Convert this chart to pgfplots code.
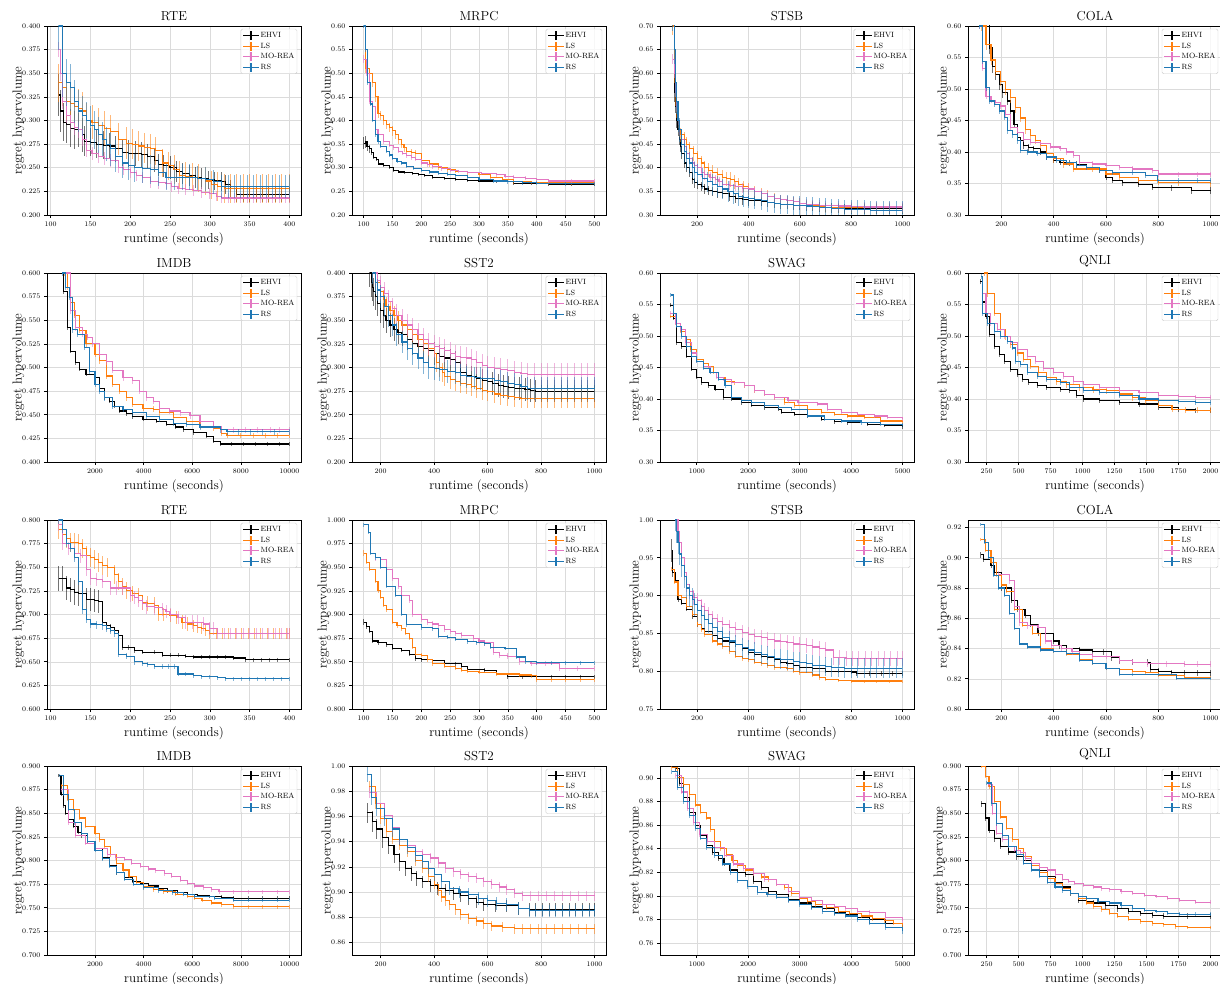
\documentclass[border=0pt]{standalone}
\usepackage{pgfplots}
\pgfplotsset{compat=1.18}
\definecolor{cL}{HTML}{FF7F0E}
\definecolor{cM}{HTML}{E377C2}
\definecolor{cR}{HTML}{1F77B4}
\tikzset{
 sE/.style={black, const plot, line width=1.1pt, mark=none},
 sL/.style={cL, const plot, line width=1.1pt, mark=none},
 sM/.style={cM, const plot, line width=1.1pt, mark=none},
 sR/.style={cR, const plot, line width=1.1pt, mark=none},
}
\pgfplotsset{
 /pgfplots/error bars/draw error bar/.code 2 args={\draw #1 -- #2;},
 panel/.style={
  scale only axis, width=254pt, height=189pt, anchor=south west,
  grid=major, grid style={line width=0.5pt, black!14},
  tick align=outside, tick pos=left, major tick length=3pt,
  every tick/.style={black, line width=0.6pt},
  axis line style={line width=0.8pt},
  tick label style={font=\fontsize{7}{8}\selectfont},
  title style={font=\fontsize{13}{15}\selectfont, yshift=-4pt},
  label style={font=\fontsize{13}{15}\selectfont},
  ylabel shift=-9pt,
  xlabel={runtime (seconds)}, ylabel={regret hypervolume},
  scaled x ticks=false, scaled y ticks=false,
  /pgf/number format/1000 sep={},
  /pgfplots/error bars/y dir=both,
  /pgfplots/error bars/y explicit,
  /pgfplots/error bars/error mark=none,
  /pgfplots/error bars/error bar style={line width=0.9pt, opacity=0.55},
  legend style={font=\fontsize{7.6}{8.5}\selectfont, at={(0.985,0.985)}, anchor=north east,
    draw=black!20, rounded corners=1.5pt, fill=white, fill opacity=0.8, text opacity=1,
    inner sep=1.5pt, row sep=0.3pt, nodes={inner sep=1pt}},
  legend cell align=left,
  legend image code/.code={\draw[##1, line width=1.2pt] (0pt,0pt) -- (16pt,0pt); \draw[##1, line width=1.2pt] (8pt,-4.5pt) -- (8pt,4.5pt);},
 },
 p3/.style={yticklabel style={/pgf/number format/fixed, /pgf/number format/fixed zerofill, /pgf/number format/precision=3}},
 p2/.style={yticklabel style={/pgf/number format/fixed, /pgf/number format/fixed zerofill, /pgf/number format/precision=2}},
}
\begin{document}
\begin{tikzpicture}
% ---------- Row 1 ----------
\begin{axis}[panel, p3, at={(47pt,768pt)}, title={RTE}, xmin=95.5, xmax=414.5, ymin=0.2, ymax=0.4,
  xtick={100,150,...,400}, ytick={0.2,0.225,0.25,0.275,0.3,0.325,0.35,0.375,0.4}]
\addplot[sE] table[y error index=2,row sep=\\]{110 .327 .022\\ 113 .31 .022\\ 116 .298 .02\\ 120 .296 .02\\ 125 .292 .02\\ 130 .29 .02\\ 135 .29 .018\\ 140 .285 .018\\ 143 .278 .016\\ 150 .277 .015\\ 158 .275 .015\\ 166 .274 .015\\ 174 .273 .014\\ 182 .27 .014\\ 190 .266 .014\\ 198 .265 .014\\ 206 .265 .013\\ 214 .264 .013\\ 222 .262 .013\\ 230 .258 .012\\ 235 .253 .012\\ 242 .252 .012\\ 250 .25 .012\\ 258 .246 .011\\ 266 .244 .011\\ 274 .242 .011\\ 282 .24 .011\\ 290 .239 .011\\ 298 .237 .01\\ 306 .236 .01\\ 314 .235 .01\\ 320 .232 .01\\ 326 .228 .009\\ 334 .222 .008\\ 342 .222 .008\\ 350 .222 .008\\ 358 .222 .008\\ 366 .222 .008\\ 374 .222 .008\\ 382 .222 .008\\ 390 .222 .008\\ 400 .222 .008\\};
\addplot[sL] table[y error index=2,row sep=\\]{110 .34 .02\\ 115 .335 .02\\ 120 .32 .02\\ 125 .318 .02\\ 130 .315 .02\\ 135 .313 .02\\ 140 .31 .02\\ 145 .30 .018\\ 152 .298 .018\\ 160 .295 .018\\ 168 .292 .018\\ 175 .288 .018\\ 185 .28 .017\\ 195 .276 .017\\ 203 .275 .016\\ 210 .273 .016\\ 218 .271 .016\\ 225 .27 .016\\ 232 .268 .015\\ 240 .255 .015\\ 248 .252 .015\\ 255 .248 .015\\ 262 .242 .015\\ 270 .241 .015\\ 278 .24 .015\\ 286 .239 .015\\ 294 .236 .015\\ 302 .232 .015\\ 310 .23 .015\\ 318 .228 .015\\ 326 .228 .015\\ 334 .228 .015\\ 342 .228 .015\\ 350 .228 .015\\ 358 .228 .015\\ 366 .228 .015\\ 374 .228 .015\\ 382 .228 .015\\ 390 .228 .015\\ 400 .228 .015\\};
\addplot[sM] table[y error index=2,row sep=\\]{110 .375 .008\\ 112 .35 .008\\ 115 .32 .008\\ 120 .305 .008\\ 125 .298 .008\\ 130 .293 .008\\ 135 .29 .008\\ 140 .28 .007\\ 145 .268 .007\\ 152 .265 .007\\ 160 .262 .007\\ 168 .26 .007\\ 175 .258 .007\\ 185 .25 .006\\ 192 .248 .006\\ 200 .245 .006\\ 208 .242 .006\\ 215 .24 .006\\ 225 .235 .006\\ 235 .234 .006\\ 245 .233 .006\\ 252 .23 .006\\ 260 .228 .006\\ 270 .227 .006\\ 280 .226 .006\\ 290 .224 .006\\ 300 .223 .006\\ 308 .22 .005\\ 315 .218 .005\\ 323 .218 .005\\ 331 .218 .005\\ 339 .218 .005\\ 347 .218 .005\\ 355 .218 .005\\ 363 .218 .005\\ 371 .218 .005\\ 379 .218 .005\\ 387 .218 .005\\ 395 .218 .005\\ 400 .218 .005\\};
\addplot[sR] table[y error index=2,row sep=\\]{110 .40 .025\\ 115 .35 .025\\ 120 .34 .025\\ 125 .335 .025\\ 130 .32 .023\\ 135 .31 .022\\ 140 .305 .021\\ 145 .30 .02\\ 150 .295 .02\\ 155 .29 .02\\ 160 .285 .019\\ 165 .28 .018\\ 170 .275 .018\\ 175 .27 .018\\ 182 .262 .017\\ 190 .255 .016\\ 198 .252 .015\\ 205 .25 .015\\ 215 .249 .015\\ 225 .248 .015\\ 235 .245 .014\\ 245 .24 .014\\ 255 .24 .014\\ 265 .24 .014\\ 275 .24 .014\\ 285 .239 .013\\ 295 .238 .013\\ 305 .235 .013\\ 315 .23 .012\\ 323 .23 .012\\ 331 .23 .012\\ 339 .23 .012\\ 347 .23 .012\\ 355 .23 .012\\ 363 .23 .012\\ 371 .23 .012\\ 379 .23 .012\\ 387 .23 .012\\ 395 .23 .012\\ 400 .23 .012\\};
\legend{EHVI,LS,MO-REA,RS}
\end{axis}
\begin{axis}[panel, p2, at={(352pt,768pt)}, title={MRPC}, xmin=80, xmax=520, ymin=0.2, ymax=0.6,
  xtick={100,150,...,500}, ytick={0.2,0.25,0.3,0.35,0.4,0.45,0.5,0.55,0.6}]
\addplot[sE] table[y error index=2,row sep=\\]{100 .352 .013\\ 103 .355 .013\\ 106 .345 .01\\ 110 .34 .008\\ 113 .333 .006\\ 117 .322 .004\\ 122 .318 .004\\ 126 .308 .003\\ 135 .304 .003\\ 145 .30 .003\\ 152 .295 .003\\ 160 .291 .003\\ 170 .289 .003\\ 185 .288 .003\\ 195 .285 .003\\ 205 .283 .003\\ 220 .279 .003\\ 240 .277 .003\\ 260 .275 .003\\ 280 .273 .003\\ 300 .272 .003\\ 330 .27 .003\\ 360 .267 .003\\ 390 .266 .003\\ 420 .265 .003\\ 460 .265 .003\\ 500 .265 .003\\};
\addplot[sL] table[y error index=2,row sep=\\]{100 .62 .01\\ 103 .51 .01\\ 110 .50 .01\\ 115 .48 .01\\ 120 .45 .01\\ 125 .415 .01\\ 130 .41 .01\\ 135 .40 .01\\ 140 .392 .01\\ 145 .385 .01\\ 150 .378 .01\\ 155 .37 .01\\ 160 .36 .009\\ 165 .35 .008\\ 170 .342 .008\\ 175 .335 .008\\ 183 .332 .007\\ 190 .33 .007\\ 200 .315 .006\\ 215 .308 .006\\ 230 .30 .005\\ 245 .296 .005\\ 260 .293 .005\\ 280 .289 .005\\ 300 .285 .005\\ 320 .28 .005\\ 340 .275 .005\\ 360 .27 .005\\ 390 .269 .004\\ 420 .268 .004\\ 460 .268 .004\\ 500 .268 .004\\};
\addplot[sM] table[y error index=2,row sep=\\]{100 .53 .008\\ 105 .50 .006\\ 110 .44 .005\\ 115 .43 .005\\ 120 .38 .005\\ 125 .37 .005\\ 135 .355 .004\\ 145 .348 .004\\ 152 .342 .004\\ 160 .335 .004\\ 168 .33 .004\\ 175 .325 .004\\ 183 .321 .004\\ 190 .318 .004\\ 200 .31 .004\\ 210 .306 .004\\ 220 .302 .004\\ 235 .298 .004\\ 250 .295 .004\\ 265 .292 .004\\ 280 .29 .004\\ 305 .288 .004\\ 330 .285 .004\\ 345 .282 .004\\ 360 .28 .004\\ 380 .278 .004\\ 400 .275 .004\\ 420 .272 .004\\ 460 .272 .004\\ 500 .272 .004\\};
\addplot[sR] table[y error index=2,row sep=\\]{100 .60 .004\\ 103 .55 .004\\ 107 .48 .004\\ 112 .435 .004\\ 116 .40 .004\\ 120 .37 .004\\ 125 .355 .004\\ 130 .345 .004\\ 140 .335 .004\\ 145 .327 .004\\ 150 .32 .004\\ 158 .314 .004\\ 165 .31 .004\\ 175 .303 .004\\ 187 .299 .004\\ 200 .295 .004\\ 215 .291 .004\\ 230 .288 .004\\ 245 .286 .004\\ 260 .283 .004\\ 280 .279 .004\\ 300 .275 .004\\ 325 .272 .004\\ 350 .27 .004\\ 375 .268 .004\\ 400 .267 .004\\ 450 .266 .004\\ 500 .266 .004\\};
\legend{EHVI,LS,MO-REA,RS}
\end{axis}
\begin{axis}[panel, p2, at={(660pt,768pt)}, title={STSB}, xmin=55, xmax=1045, ymin=0.3, ymax=0.7,
  xtick={200,400,...,1000}, ytick={0.3,0.35,0.4,0.45,0.5,0.55,0.6,0.65,0.7}]
\addplot[sE] table[y error index=2,row sep=\\]{105 .72 .02\\ 110 .56 .02\\ 115 .53 .015\\ 120 .50 .015\\ 125 .48 .012\\ 130 .46 .012\\ 135 .445 .012\\ 140 .43 .012\\ 150 .41 .01\\ 160 .40 .01\\ 170 .39 .01\\ 180 .375 .01\\ 190 .368 .01\\ 200 .365 .01\\ 215 .36 .01\\ 230 .355 .01\\ 245 .352 .01\\ 260 .35 .01\\ 280 .347 .01\\ 300 .345 .01\\ 325 .34 .01\\ 350 .335 .01\\ 375 .332 .01\\ 400 .33 .01\\ 425 .33 .01\\ 450 .328 .01\\ 475 .326 .01\\ 500 .325 .01\\ 525 .323 .01\\ 550 .322 .01\\ 575 .321 .01\\ 600 .32 .01\\ 625 .319 .01\\ 650 .318 .01\\ 675 .317 .01\\ 700 .316 .01\\ 725 .315 .01\\ 750 .314 .01\\ 775 .313 .01\\ 800 .313 .01\\ 850 .313 .01\\ 900 .313 .01\\ 950 .313 .01\\ 1000 .313 .01\\};
\addplot[sL] table[y error index=2,row sep=\\]{105 .70 .02\\ 110 .60 .02\\ 115 .55 .02\\ 120 .52 .015\\ 125 .50 .015\\ 130 .48 .015\\ 135 .47 .015\\ 150 .46 .015\\ 160 .45 .015\\ 170 .44 .015\\ 185 .43 .015\\ 200 .42 .015\\ 215 .41 .015\\ 230 .40 .015\\ 245 .395 .015\\ 260 .39 .015\\ 280 .385 .015\\ 300 .38 .015\\ 315 .377 .015\\ 330 .375 .015\\ 345 .37 .014\\ 360 .365 .013\\ 380 .36 .012\\ 400 .355 .012\\ 425 .35 .012\\ 450 .345 .012\\ 475 .34 .012\\ 500 .335 .012\\ 525 .332 .011\\ 550 .33 .011\\ 575 .328 .011\\ 600 .325 .01\\ 625 .322 .01\\ 650 .32 .01\\ 675 .318 .01\\ 700 .315 .01\\ 750 .315 .01\\ 800 .315 .01\\ 850 .315 .01\\ 900 .315 .01\\ 950 .315 .01\\ 1000 .315 .01\\};
\addplot[sM] table[y error index=2,row sep=\\]{105 .63 .01\\ 110 .60 .01\\ 115 .56 .01\\ 120 .53 .01\\ 125 .50 .01\\ 130 .48 .01\\ 140 .46 .01\\ 150 .445 .01\\ 160 .43 .01\\ 170 .42 .01\\ 180 .41 .01\\ 190 .405 .01\\ 200 .40 .01\\ 215 .39 .01\\ 230 .385 .01\\ 250 .38 .01\\ 270 .375 .01\\ 285 .37 .01\\ 300 .365 .01\\ 325 .362 .01\\ 350 .36 .01\\ 375 .357 .01\\ 400 .355 .01\\ 425 .35 .01\\ 450 .345 .01\\ 475 .34 .01\\ 500 .335 .01\\ 525 .332 .01\\ 550 .33 .01\\ 575 .328 .01\\ 600 .325 .01\\ 625 .323 .01\\ 650 .322 .01\\ 675 .321 .01\\ 700 .32 .01\\ 750 .319 .01\\ 800 .318 .01\\ 850 .317 .01\\ 900 .317 .01\\ 950 .317 .01\\ 1000 .317 .01\\};
\addplot[sR] table[y error index=2,row sep=\\]{105 .72 .03\\ 110 .65 .03\\ 115 .58 .03\\ 120 .54 .027\\ 125 .50 .025\\ 130 .48 .025\\ 140 .45 .025\\ 150 .435 .025\\ 160 .42 .025\\ 170 .41 .023\\ 180 .40 .022\\ 190 .39 .022\\ 200 .385 .022\\ 220 .378 .022\\ 240 .37 .022\\ 260 .365 .022\\ 280 .36 .022\\ 300 .355 .022\\ 320 .35 .022\\ 340 .345 .021\\ 360 .34 .02\\ 380 .337 .02\\ 400 .335 .02\\ 425 .332 .02\\ 450 .33 .02\\ 475 .327 .02\\ 500 .325 .02\\ 525 .323 .02\\ 550 .322 .02\\ 575 .321 .02\\ 600 .32 .02\\ 625 .319 .02\\ 650 .318 .02\\ 675 .316 .02\\ 700 .315 .02\\ 725 .314 .02\\ 750 .313 .02\\ 775 .312 .02\\ 800 .312 .02\\ 825 .311 .02\\ 850 .311 .02\\ 875 .31 .02\\ 900 .31 .02\\ 925 .31 .02\\ 950 .31 .02\\ 975 .31 .02\\ 1000 .31 .02\\};
\legend{EHVI,LS,MO-REA,RS}
\end{axis}
\begin{axis}[panel, p2, at={(968pt,768pt)}, title={COLA}, xmin=72, xmax=1044, ymin=0.3, ymax=0.6,
  xtick={200,400,...,1000}, ytick={0.3,0.35,0.4,0.45,0.5,0.55,0.6}]
\addplot[sE] table[y error index=2,row sep=\\]{147 .62 .01\\ 153 .565 .01\\ 165 .536 .01\\ 178 .523 .008\\ 191 .507 .008\\ 204 .494 .008\\ 223 .481 .007\\ 235 .465 .006\\ 248 .444 .006\\ 260 .423 .006\\ 273 .418 .005\\ 286 .41 .005\\ 305 .407 .005\\ 323 .405 .005\\ 349 .40 .005\\ 374 .392 .005\\ 399 .387 .005\\ 424 .384 .005\\ 462 .383 .005\\ 487 .38 .005\\ 525 .376 .005\\ 575 .371 .005\\ 600 .36 .005\\ 626 .355 .005\\ 663 .351 .005\\ 726 .349 .005\\ 777 .344 .005\\ 852 .343 .005\\ 928 .339 .005\\ 1000 .339 .005\\};
\addplot[sL] table[y error index=2,row sep=\\]{122 .60 .008\\ 141 .57 .008\\ 160 .546 .008\\ 178 .528 .008\\ 198 .512 .008\\ 217 .499 .008\\ 235 .486 .008\\ 254 .47 .008\\ 273 .454 .007\\ 292 .436 .007\\ 311 .426 .006\\ 330 .418 .006\\ 349 .41 .006\\ 374 .397 .006\\ 399 .389 .006\\ 437 .381 .006\\ 475 .373 .005\\ 550 .373 .005\\ 600 .365 .005\\ 651 .36 .005\\ 726 .355 .005\\ 802 .352 .005\\ 878 .351 .005\\ 1000 .35 .005\\};
\addplot[sM] table[y error index=2,row sep=\\]{115 .60 .004\\ 128 .533 .004\\ 141 .488 .004\\ 160 .481 .004\\ 178 .478 .004\\ 198 .473 .004\\ 217 .459 .004\\ 235 .439 .004\\ 260 .431 .004\\ 286 .42 .004\\ 311 .415 .004\\ 349 .413 .004\\ 386 .408 .004\\ 424 .405 .004\\ 449 .40 .004\\ 475 .395 .004\\ 500 .384 .004\\ 550 .381 .004\\ 600 .379 .004\\ 651 .376 .004\\ 701 .373 .004\\ 777 .371 .004\\ 802 .365 .004\\ 878 .365 .004\\ 950 .365 .004\\ 1000 .365 .004\\};
\addplot[sR] table[y error index=2,row sep=\\]{115 .60 .005\\ 128 .544 .005\\ 141 .502 .005\\ 154 .481 .005\\ 173 .476 .005\\ 191 .465 .005\\ 210 .455 .005\\ 223 .434 .005\\ 242 .428 .005\\ 260 .418 .005\\ 273 .402 .004\\ 298 .40 .004\\ 336 .397 .004\\ 374 .392 .004\\ 412 .387 .004\\ 449 .384 .004\\ 487 .379 .004\\ 525 .376 .004\\ 575 .371 .004\\ 626 .368 .004\\ 701 .367 .004\\ 752 .363 .004\\ 796 .355 .004\\ 878 .355 .004\\ 950 .355 .004\\ 1000 .355 .004\\};
\legend{EHVI,LS,MO-REA,RS}
\end{axis}
% ---------- Row 2 ----------
\begin{axis}[panel, p3, at={(47pt,521pt)}, title={IMDB}, xmin=25, xmax=10475, ymin=0.4, ymax=0.6,
  xtick={2000,4000,...,10000}, ytick={0.4,0.425,0.45,0.475,0.5,0.525,0.55,0.575,0.6}]
\addplot[sE] table[y error index=2,row sep=\\]{550 .62 .002\\ 700 .58 .002\\ 870 .542 .002\\ 1000 .517 .002\\ 1200 .505 .002\\ 1350 .498 .002\\ 1630 .493 .002\\ 2000 .489 .002\\ 2180 .478 .002\\ 2390 .468 .002\\ 2600 .464 .002\\ 2800 .459 .002\\ 3000 .454 .002\\ 3300 .451 .002\\ 3560 .448 .002\\ 3975 .445 .002\\ 4530 .443 .002\\ 4940 .44 .002\\ 5300 .437 .002\\ 5630 .434 .002\\ 6050 .431 .002\\ 6600 .427 .002\\ 6880 .422 .002\\ 7150 .419 .002\\ 7600 .419 .002\\ 8100 .419 .002\\ 8600 .419 .002\\ 9100 .419 .002\\ 9600 .419 .002\\ 10000 .419 .002\\};
\addplot[sL] table[y error index=2,row sep=\\]{730 .60 .003\\ 870 .585 .003\\ 1000 .569 .003\\ 1140 .555 .003\\ 1350 .539 .003\\ 1630 .525 .003\\ 2000 .514 .003\\ 2180 .507 .003\\ 2460 .491 .003\\ 2730 .482 .003\\ 3000 .475 .003\\ 3280 .468 .003\\ 3560 .461 .003\\ 3975 .457 .003\\ 4390 .456 .003\\ 4670 .452 .003\\ 5220 .447 .003\\ 5770 .443 .003\\ 6320 .438 .003\\ 6880 .436 .003\\ 7220 .43 .003\\ 7430 .428 .003\\ 8000 .428 .003\\ 8500 .428 .003\\ 9000 .428 .003\\ 9500 .428 .003\\ 10000 .428 .003\\};
\addplot[sM] table[y error index=2,row sep=\\]{800 .60 .003\\ 1000 .56 .003\\ 1210 .542 .003\\ 1490 .535 .003\\ 1700 .532 .003\\ 1900 .525 .003\\ 2180 .514 .003\\ 2460 .506 .003\\ 2730 .497 .003\\ 3150 .489 .003\\ 3560 .486 .003\\ 3840 .475 .003\\ 4110 .468 .003\\ 4390 .464 .003\\ 4670 .457 .003\\ 5080 .454 .003\\ 5500 .452 .003\\ 5910 .449 .003\\ 6320 .443 .003\\ 6880 .438 .003\\ 7220 .434 .003\\ 7700 .434 .003\\ 8200 .434 .003\\ 8700 .434 .003\\ 9200 .434 .003\\ 9600 .434 .003\\ 10000 .434 .003\\};
\addplot[sR] table[y error index=2,row sep=\\]{660 .60 .003\\ 800 .585 .003\\ 940 .574 .003\\ 1070 .54 .003\\ 1280 .535 .003\\ 1560 .521 .003\\ 1770 .496 .003\\ 2000 .482 .003\\ 2180 .475 .003\\ 2390 .468 .003\\ 2730 .459 .003\\ 3150 .456 .003\\ 3560 .452 .003\\ 4110 .448 .003\\ 4670 .445 .003\\ 5220 .441 .003\\ 5770 .44 .003\\ 6320 .437 .003\\ 7150 .434 .003\\ 7430 .432 .003\\ 7900 .432 .003\\ 8400 .432 .003\\ 8900 .432 .003\\ 9400 .432 .003\\ 10000 .432 .003\\};
\legend{EHVI,LS,MO-REA,RS}
\end{axis}
\begin{axis}[panel, p3, at={(352pt,521pt)}, title={SST2}, xmin=93, xmax=1043, ymin=0.2, ymax=0.4,
  xtick={200,400,...,1000}, ytick={0.2,0.225,0.25,0.275,0.3,0.325,0.35,0.375,0.4}]
\addplot[sE] table[y error index=2,row sep=\\]{160 .40 .015\\ 165 .39 .015\\ 170 .385 .015\\ 175 .38 .015\\ 180 .375 .014\\ 190 .368 .014\\ 200 .36 .013\\ 210 .355 .013\\ 220 .35 .013\\ 235 .345 .013\\ 250 .34 .012\\ 265 .337 .012\\ 280 .335 .012\\ 300 .33 .012\\ 320 .325 .012\\ 340 .322 .012\\ 360 .32 .012\\ 380 .318 .012\\ 400 .315 .012\\ 420 .312 .012\\ 440 .31 .012\\ 460 .308 .012\\ 480 .305 .012\\ 500 .295 .012\\ 520 .292 .012\\ 540 .29 .012\\ 560 .288 .012\\ 580 .286 .012\\ 600 .285 .012\\ 620 .283 .012\\ 640 .281 .012\\ 660 .28 .012\\ 680 .279 .012\\ 700 .278 .012\\ 720 .278 .012\\ 740 .277 .012\\ 760 .276 .012\\ 780 .275 .012\\ 800 .275 .012\\ 825 .275 .012\\ 850 .275 .012\\ 875 .275 .012\\ 900 .275 .012\\ 925 .275 .012\\ 950 .275 .012\\ 975 .275 .012\\ 1000 .275 .012\\};
\addplot[sL] table[y error index=2,row sep=\\]{180 .40 .01\\ 190 .39 .01\\ 200 .38 .01\\ 210 .372 .01\\ 220 .365 .01\\ 235 .36 .01\\ 250 .355 .01\\ 265 .35 .01\\ 280 .345 .01\\ 300 .34 .01\\ 320 .335 .01\\ 340 .33 .01\\ 360 .325 .01\\ 380 .32 .01\\ 400 .315 .01\\ 410 .305 .01\\ 420 .30 .01\\ 430 .295 .01\\ 440 .29 .01\\ 460 .287 .01\\ 480 .285 .01\\ 500 .283 .01\\ 520 .282 .01\\ 540 .28 .01\\ 560 .278 .01\\ 580 .276 .01\\ 600 .275 .01\\ 625 .272 .01\\ 650 .27 .01\\ 675 .269 .01\\ 700 .268 .01\\ 725 .267 .01\\ 750 .267 .01\\ 775 .267 .01\\ 800 .267 .01\\ 825 .267 .01\\ 850 .267 .01\\ 875 .267 .01\\ 900 .267 .01\\ 925 .267 .01\\ 950 .267 .01\\ 975 .267 .01\\ 1000 .267 .01\\};
\addplot[sM] table[y error index=2,row sep=\\]{180 .40 .012\\ 190 .392 .012\\ 200 .385 .012\\ 215 .378 .012\\ 230 .37 .012\\ 245 .362 .012\\ 260 .355 .012\\ 280 .35 .012\\ 300 .345 .012\\ 320 .34 .012\\ 340 .335 .012\\ 360 .33 .012\\ 380 .325 .012\\ 400 .322 .012\\ 420 .32 .012\\ 440 .318 .012\\ 460 .315 .012\\ 480 .312 .012\\ 500 .311 .012\\ 520 .31 .012\\ 540 .308 .012\\ 560 .305 .012\\ 580 .302 .012\\ 600 .30 .012\\ 625 .299 .012\\ 650 .298 .012\\ 675 .297 .012\\ 700 .295 .012\\ 725 .294 .012\\ 750 .293 .012\\ 775 .293 .012\\ 800 .293 .012\\ 825 .293 .012\\ 850 .293 .012\\ 875 .293 .012\\ 900 .293 .012\\ 925 .293 .012\\ 950 .293 .012\\ 975 .293 .012\\ 1000 .293 .012\\};
\addplot[sR] table[y error index=2,row sep=\\]{170 .40 .012\\ 180 .39 .012\\ 190 .382 .012\\ 200 .375 .012\\ 215 .365 .012\\ 230 .355 .012\\ 245 .345 .012\\ 260 .335 .012\\ 280 .327 .012\\ 300 .32 .012\\ 320 .315 .012\\ 340 .31 .012\\ 360 .305 .012\\ 380 .30 .012\\ 400 .299 .012\\ 420 .298 .012\\ 450 .296 .012\\ 480 .295 .012\\ 500 .292 .012\\ 520 .29 .012\\ 550 .289 .012\\ 575 .288 .012\\ 600 .288 .012\\ 625 .286 .012\\ 650 .285 .012\\ 675 .283 .012\\ 700 .282 .012\\ 725 .28 .012\\ 750 .278 .012\\ 775 .278 .012\\ 800 .278 .012\\ 825 .278 .012\\ 850 .278 .012\\ 875 .278 .012\\ 900 .278 .012\\ 925 .278 .012\\ 950 .278 .012\\ 975 .278 .012\\ 1000 .278 .012\\};
\legend{EHVI,LS,MO-REA,RS}
\end{axis}
\begin{axis}[panel, p2, at={(660pt,521pt)}, title={SWAG}, xmin=285, xmax=5224, ymin=0.3, ymax=0.6,
  xtick={1000,2000,...,5000}, ytick={0.3,0.35,0.4,0.45,0.5,0.55,0.6}]
\addplot[sE] table[y error index=2,row sep=\\]{484 .549 .003\\ 548 .528 .003\\ 613 .489 .003\\ 710 .483 .003\\ 806 .468 .003\\ 903 .447 .003\\ 1000 .434 .003\\ 1097 .426 .003\\ 1226 .421 .003\\ 1355 .415 .003\\ 1516 .402 .003\\ 1677 .40 .003\\ 1871 .394 .003\\ 2065 .39 .003\\ 2323 .386 .003\\ 2581 .384 .003\\ 2645 .379 .003\\ 2903 .376 .003\\ 3161 .373 .003\\ 3419 .368 .003\\ 3677 .364 .003\\ 3935 .362 .003\\ 4323 .36 .003\\ 4645 .358 .003\\ 5000 .356 .003\\};
\addplot[sL] table[y error index=2,row sep=\\]{484 .531 .003\\ 581 .52 .003\\ 677 .507 .003\\ 774 .494 .003\\ 871 .478 .003\\ 1000 .463 .003\\ 1129 .457 .003\\ 1226 .452 .003\\ 1323 .442 .003\\ 1419 .434 .003\\ 1548 .428 .003\\ 1742 .426 .003\\ 1935 .421 .003\\ 2129 .413 .003\\ 2323 .407 .003\\ 2516 .402 .003\\ 2710 .394 .003\\ 2903 .389 .003\\ 3161 .384 .003\\ 3419 .379 .003\\ 3677 .376 .003\\ 3935 .373 .003\\ 4258 .371 .003\\ 4581 .365 .003\\ 5000 .363 .003\\};
\addplot[sM] table[y error index=2,row sep=\\]{484 .536 .003\\ 581 .52 .003\\ 677 .51 .003\\ 774 .489 .003\\ 903 .473 .003\\ 1000 .46 .003\\ 1129 .452 .003\\ 1258 .442 .003\\ 1387 .434 .003\\ 1516 .431 .003\\ 1677 .426 .003\\ 1935 .421 .003\\ 2129 .413 .003\\ 2323 .407 .003\\ 2516 .402 .003\\ 2774 .397 .003\\ 2968 .394 .003\\ 3355 .392 .003\\ 3548 .384 .003\\ 3806 .379 .003\\ 4129 .376 .003\\ 4452 .373 .003\\ 4710 .371 .003\\ 5000 .368 .003\\};
\addplot[sR] table[y error index=2,row sep=\\]{497 .565 .003\\ 548 .536 .003\\ 613 .515 .003\\ 710 .499 .003\\ 806 .483 .003\\ 903 .468 .003\\ 1000 .46 .003\\ 1129 .449 .003\\ 1258 .442 .003\\ 1419 .431 .003\\ 1548 .421 .003\\ 1677 .402 .003\\ 1871 .397 .003\\ 2065 .394 .003\\ 2323 .389 .003\\ 2581 .386 .003\\ 2839 .384 .003\\ 3161 .373 .003\\ 3484 .368 .003\\ 3806 .365 .003\\ 4194 .362 .003\\ 4581 .36 .003\\ 5000 .359 .003\\};
\legend{EHVI,LS,MO-REA,RS}
\end{axis}
\begin{axis}[panel, p2, at={(968pt,521pt)}, title={QNLI}, xmin=104, xmax=2090, ymin=0.3, ymax=0.6,
  xtick={250,500,...,2000}, ytick={0.3,0.35,0.4,0.45,0.5,0.55,0.6}]
\addplot[sE] table[y error index=2,row sep=\\]{199 .586 .004\\ 219 .554 .004\\ 245 .531 .004\\ 270 .502 .004\\ 309 .484 .004\\ 348 .47 .004\\ 386 .46 .004\\ 438 .447 .004\\ 489 .439 .004\\ 528 .431 .004\\ 579 .426 .004\\ 644 .421 .004\\ 721 .418 .004\\ 824 .415 .004\\ 901 .413 .004\\ 953 .405 .004\\ 1004 .40 .004\\ 1133 .397 .004\\ 1287 .394 .004\\ 1441 .392 .004\\ 1596 .387 .004\\ 1750 .384 .004\\ 1880 .382 .004\\ 2000 .382 .004\\};
\addplot[sL] table[y error index=2,row sep=\\]{232 .60 .005\\ 258 .567 .005\\ 309 .536 .005\\ 361 .51 .005\\ 399 .499 .005\\ 438 .486 .005\\ 489 .473 .005\\ 541 .463 .005\\ 592 .452 .005\\ 656 .442 .005\\ 721 .434 .005\\ 798 .428 .005\\ 875 .423 .005\\ 978 .418 .005\\ 1081 .415 .005\\ 1184 .413 .005\\ 1287 .408 .005\\ 1390 .402 .005\\ 1493 .397 .005\\ 1596 .39 .005\\ 1699 .384 .005\\ 1802 .382 .005\\ 1900 .382 .005\\ 2000 .382 .005\\};
\addplot[sM] table[y error index=2,row sep=\\]{219 .567 .004\\ 245 .536 .004\\ 283 .52 .004\\ 335 .51 .004\\ 386 .499 .004\\ 438 .489 .004\\ 489 .478 .004\\ 566 .468 .004\\ 631 .46 .004\\ 695 .449 .004\\ 772 .442 .004\\ 850 .436 .004\\ 927 .428 .004\\ 1004 .423 .004\\ 1133 .418 .004\\ 1287 .414 .004\\ 1441 .411 .004\\ 1596 .406 .004\\ 1750 .404 .004\\ 1880 .402 .004\\ 2000 .402 .004\\};
\addplot[sR] table[y error index=2,row sep=\\]{206 .594 .004\\ 219 .536 .004\\ 258 .52 .004\\ 309 .507 .004\\ 361 .499 .004\\ 412 .491 .004\\ 451 .481 .004\\ 476 .46 .004\\ 515 .455 .004\\ 566 .442 .004\\ 644 .436 .004\\ 721 .431 .004\\ 824 .426 .004\\ 901 .418 .004\\ 1004 .413 .004\\ 1133 .41 .004\\ 1287 .405 .004\\ 1441 .40 .004\\ 1596 .398 .004\\ 1750 .396 .004\\ 1880 .394 .004\\ 2000 .394 .004\\};
\legend{EHVI,LS,MO-REA,RS}
\end{axis}
% ---------- Row 3 ----------
\begin{axis}[panel, p3, at={(47pt,274pt)}, title={RTE}, xmin=95.5, xmax=414.5, ymin=0.6, ymax=0.8,
  xtick={100,150,...,400}, ytick={0.6,0.625,0.65,0.675,0.7,0.725,0.75,0.775,0.8}]
\addplot[sE] table[y error index=2,row sep=\\]{110 .738 .013\\ 115 .738 .013\\ 120 .728 .013\\ 125 .726 .013\\ 130 .723 .013\\ 135 .722 .013\\ 140 .722 .013\\ 145 .716 .012\\ 150 .716 .012\\ 155 .715 .012\\ 160 .714 .012\\ 165 .692 .004\\ 170 .688 .004\\ 175 .686 .004\\ 180 .683 .004\\ 185 .678 .004\\ 190 .665 .003\\ 198 .665 .003\\ 205 .662 .003\\ 215 .66 .002\\ 230 .66 .002\\ 240 .657 .002\\ 250 .657 .002\\ 260 .657 .002\\ 270 .656 .002\\ 280 .655 .002\\ 290 .655 .002\\ 300 .655 .002\\ 310 .655 .002\\ 320 .655 .002\\ 330 .654 .002\\ 345 .652 .002\\ 355 .652 .002\\ 365 .652 .002\\ 375 .652 .002\\ 385 .652 .002\\ 400 .652 .002\\};
\addplot[sL] table[y error index=2,row sep=\\]{110 .79 .01\\ 115 .785 .01\\ 120 .78 .01\\ 125 .776 .01\\ 130 .776 .01\\ 135 .775 .01\\ 140 .77 .01\\ 145 .762 .01\\ 150 .76 .01\\ 155 .758 .01\\ 160 .755 .01\\ 165 .752 .01\\ 172 .75 .01\\ 180 .742 .01\\ 185 .735 .009\\ 190 .73 .009\\ 195 .725 .009\\ 203 .722 .008\\ 210 .72 .008\\ 215 .713 .008\\ 222 .712 .008\\ 230 .71 .008\\ 235 .70 .007\\ 242 .70 .007\\ 250 .699 .007\\ 258 .697 .007\\ 265 .692 .007\\ 272 .69 .007\\ 280 .688 .006\\ 285 .686 .006\\ 290 .685 .006\\ 295 .683 .006\\ 300 .68 .006\\ 308 .68 .006\\ 316 .68 .006\\ 324 .68 .006\\ 332 .68 .006\\ 340 .68 .006\\ 348 .68 .006\\ 356 .68 .006\\ 364 .68 .006\\ 372 .68 .006\\ 380 .68 .006\\ 388 .68 .006\\ 396 .68 .006\\ 400 .68 .006\\};
\addplot[sM] table[y error index=2,row sep=\\]{110 .795 .007\\ 115 .775 .007\\ 122 .77 .007\\ 130 .765 .007\\ 138 .762 .007\\ 145 .748 .007\\ 150 .738 .007\\ 158 .737 .007\\ 165 .735 .007\\ 175 .728 .007\\ 183 .728 .007\\ 190 .728 .007\\ 200 .72 .007\\ 205 .718 .007\\ 210 .715 .007\\ 215 .712 .007\\ 220 .708 .007\\ 230 .707 .007\\ 240 .705 .007\\ 245 .703 .007\\ 250 .70 .007\\ 260 .697 .007\\ 270 .692 .007\\ 278 .692 .007\\ 285 .692 .007\\ 292 .69 .007\\ 300 .685 .007\\ 305 .685 .007\\ 310 .68 .006\\ 318 .68 .006\\ 326 .68 .006\\ 334 .68 .006\\ 342 .68 .006\\ 350 .68 .006\\ 358 .68 .006\\ 366 .68 .006\\ 374 .68 .006\\ 382 .68 .006\\ 390 .68 .006\\ 398 .68 .006\\ 400 .68 .006\\};
\addplot[sR] table[y error index=2,row sep=\\]{110 .80 .004\\ 115 .79 .004\\ 120 .775 .004\\ 125 .77 .004\\ 130 .76 .004\\ 135 .735 .004\\ 140 .705 .004\\ 145 .695 .004\\ 150 .69 .004\\ 158 .689 .004\\ 165 .688 .004\\ 170 .685 .004\\ 175 .683 .004\\ 180 .68 .004\\ 185 .658 .003\\ 195 .656 .003\\ 205 .65 .003\\ 215 .648 .003\\ 222 .647 .003\\ 230 .645 .003\\ 240 .645 .003\\ 248 .645 .003\\ 255 .645 .003\\ 260 .637 .002\\ 270 .637 .002\\ 280 .635 .002\\ 290 .634 .002\\ 300 .634 .002\\ 310 .633 .002\\ 320 .632 .002\\ 330 .632 .002\\ 340 .632 .002\\ 350 .632 .002\\ 360 .632 .002\\ 370 .632 .002\\ 380 .632 .002\\ 390 .632 .002\\ 400 .632 .002\\};
\legend{EHVI,LS,MO-REA,RS}
\end{axis}
\begin{axis}[panel, p3, at={(352pt,274pt)}, title={MRPC}, xmin=80, xmax=520, ymin=0.8, ymax=1.0,
  xtick={100,150,...,500}, ytick={0.8,0.825,0.85,0.875,0.9,0.925,0.95,0.975,1.0}]
\addplot[sE] table[y error index=2,row sep=\\]{100 .892 .003\\ 105 .887 .002\\ 110 .882 .002\\ 115 .872 .002\\ 125 .87 .002\\ 140 .868 .002\\ 150 .864 .002\\ 165 .862 .002\\ 180 .858 .002\\ 190 .853 .002\\ 200 .852 .002\\ 220 .851 .002\\ 240 .848 .002\\ 260 .848 .002\\ 270 .845 .002\\ 280 .842 .002\\ 310 .841 .002\\ 330 .838 .002\\ 350 .834 .002\\ 375 .834 .002\\ 400 .834 .002\\ 425 .834 .002\\ 450 .834 .002\\ 475 .834 .002\\ 500 .834 .002\\};
\addplot[sL] table[y error index=2,row sep=\\]{100 .965 .003\\ 105 .955 .002\\ 110 .948 .002\\ 120 .935 .002\\ 125 .925 .002\\ 130 .918 .002\\ 135 .91 .002\\ 140 .905 .002\\ 150 .892 .002\\ 158 .888 .002\\ 165 .885 .002\\ 172 .88 .002\\ 180 .875 .002\\ 185 .865 .002\\ 190 .858 .002\\ 200 .857 .002\\ 210 .852 .002\\ 220 .848 .002\\ 240 .845 .002\\ 260 .843 .002\\ 270 .841 .002\\ 280 .84 .002\\ 300 .839 .002\\ 330 .837 .002\\ 370 .836 .002\\ 390 .835 .002\\ 400 .831 .002\\ 425 .831 .002\\ 450 .831 .002\\ 475 .831 .002\\ 500 .831 .002\\};
\addplot[sM] table[y error index=2,row sep=\\]{120 .96 .003\\ 130 .958 .003\\ 140 .948 .003\\ 150 .938 .003\\ 160 .93 .003\\ 165 .92 .003\\ 180 .915 .003\\ 185 .90 .003\\ 200 .895 .003\\ 210 .892 .003\\ 220 .89 .003\\ 230 .888 .003\\ 240 .884 .003\\ 250 .882 .003\\ 260 .88 .003\\ 270 .878 .003\\ 290 .875 .003\\ 300 .872 .003\\ 310 .87 .003\\ 325 .86 .003\\ 335 .857 .003\\ 350 .856 .003\\ 370 .85 .003\\ 390 .848 .003\\ 415 .848 .003\\ 440 .843 .003\\ 470 .843 .003\\ 500 .843 .003\\};
\addplot[sR] table[y error index=2,row sep=\\]{100 .995 .002\\ 108 .987 .002\\ 112 .965 .002\\ 120 .96 .002\\ 130 .95 .002\\ 140 .93 .002\\ 155 .92 .002\\ 165 .90 .002\\ 175 .889 .002\\ 200 .886 .002\\ 220 .885 .002\\ 230 .877 .002\\ 245 .876 .002\\ 260 .874 .002\\ 280 .871 .002\\ 295 .87 .002\\ 310 .869 .002\\ 320 .865 .002\\ 345 .864 .002\\ 365 .855 .002\\ 380 .85 .002\\ 400 .849 .002\\ 425 .849 .002\\ 450 .849 .002\\ 475 .849 .002\\ 500 .849 .002\\};
\legend{EHVI,LS,MO-REA,RS}
\end{axis}
\begin{axis}[panel, p2, at={(660pt,274pt)}, title={STSB}, xmin=55, xmax=1045, ymin=0.75, ymax=1.0,
  xtick={200,400,...,1000}, ytick={0.75,0.8,0.85,0.9,0.95,1.0}]
\addplot[sE] table[y error index=2,row sep=\\]{100 .96 .015\\ 105 .93 .005\\ 115 .92 .003\\ 125 .895 .003\\ 140 .89 .003\\ 160 .882 .003\\ 180 .872 .003\\ 200 .862 .003\\ 215 .857 .003\\ 230 .852 .003\\ 260 .847 .003\\ 280 .843 .003\\ 300 .84 .003\\ 325 .838 .003\\ 350 .835 .003\\ 375 .83 .003\\ 400 .825 .003\\ 425 .822 .003\\ 450 .82 .003\\ 475 .818 .003\\ 500 .815 .003\\ 525 .812 .003\\ 550 .81 .003\\ 575 .807 .003\\ 600 .805 .003\\ 650 .803 .003\\ 700 .80 .003\\ 750 .80 .003\\ 800 .799 .003\\ 820 .797 .003\\ 870 .797 .003\\ 920 .797 .003\\ 960 .797 .003\\ 1000 .797 .003\\};
\addplot[sL] table[y error index=2,row sep=\\]{100 .935 .003\\ 110 .918 .003\\ 125 .90 .003\\ 140 .897 .003\\ 160 .885 .003\\ 180 .875 .003\\ 200 .862 .003\\ 215 .855 .003\\ 230 .848 .003\\ 260 .84 .003\\ 280 .836 .003\\ 300 .833 .003\\ 325 .826 .003\\ 350 .82 .003\\ 375 .817 .003\\ 400 .815 .003\\ 425 .812 .003\\ 450 .81 .003\\ 475 .807 .003\\ 500 .805 .003\\ 550 .803 .003\\ 575 .80 .003\\ 600 .798 .003\\ 650 .795 .003\\ 675 .792 .003\\ 700 .789 .002\\ 750 .788 .002\\ 800 .787 .002\\ 850 .787 .002\\ 900 .787 .002\\ 950 .787 .002\\ 1000 .787 .002\\};
\addplot[sM] table[y error index=2,row sep=\\]{120 1.0 .01\\ 125 .985 .01\\ 130 .97 .01\\ 140 .95 .01\\ 150 .93 .01\\ 160 .915 .01\\ 170 .905 .01\\ 185 .898 .01\\ 200 .893 .01\\ 215 .886 .01\\ 230 .88 .01\\ 245 .875 .01\\ 260 .87 .01\\ 280 .866 .01\\ 300 .862 .01\\ 325 .858 .01\\ 350 .855 .01\\ 375 .851 .01\\ 400 .848 .01\\ 425 .846 .01\\ 450 .845 .01\\ 475 .842 .01\\ 500 .84 .01\\ 525 .839 .01\\ 550 .838 .01\\ 575 .836 .01\\ 600 .835 .01\\ 625 .834 .01\\ 650 .832 .01\\ 675 .83 .01\\ 700 .828 .01\\ 730 .818 .01\\ 755 .818 .01\\ 780 .817 .01\\ 805 .817 .01\\ 830 .817 .01\\ 855 .817 .01\\ 880 .817 .01\\ 905 .817 .01\\ 930 .817 .01\\ 955 .817 .01\\ 980 .817 .01\\ 1000 .817 .01\\};
\addplot[sR] table[y error index=2,row sep=\\]{115 1.0 .015\\ 120 .985 .015\\ 125 .97 .015\\ 132 .955 .015\\ 140 .94 .015\\ 150 .925 .015\\ 160 .91 .015\\ 170 .90 .015\\ 180 .895 .015\\ 190 .888 .015\\ 200 .88 .015\\ 215 .874 .014\\ 230 .868 .013\\ 245 .863 .013\\ 260 .858 .013\\ 280 .852 .013\\ 300 .845 .013\\ 325 .84 .013\\ 350 .835 .013\\ 375 .831 .013\\ 400 .828 .013\\ 425 .825 .013\\ 450 .822 .013\\ 475 .82 .013\\ 500 .817 .013\\ 525 .816 .013\\ 550 .815 .013\\ 575 .813 .013\\ 600 .812 .013\\ 625 .81 .013\\ 650 .808 .013\\ 675 .807 .013\\ 700 .806 .013\\ 725 .805 .013\\ 750 .805 .013\\ 775 .804 .013\\ 800 .804 .013\\ 825 .804 .013\\ 850 .804 .013\\ 875 .804 .013\\ 900 .804 .013\\ 925 .804 .013\\ 950 .804 .013\\ 975 .804 .013\\ 1000 .804 .013\\};
\legend{EHVI,LS,MO-REA,RS}
\end{axis}
\begin{axis}[panel, p2, at={(968pt,274pt)}, title={COLA}, xmin=72, xmax=1044, ymin=0.8, ymax=0.925,
  xtick={200,400,...,1000}, ytick={0.8,0.82,0.84,0.86,0.88,0.9,0.92}]
\addplot[sE] table[y error index=2,row sep=\\]{120 .902 .002\\ 130 .899 .002\\ 160 .895 .002\\ 175 .89 .002\\ 200 .88 .002\\ 240 .872 .002\\ 260 .866 .002\\ 290 .862 .002\\ 310 .856 .002\\ 340 .85 .002\\ 370 .85 .002\\ 400 .845 .002\\ 420 .842 .002\\ 450 .84 .002\\ 500 .839 .002\\ 550 .838 .002\\ 590 .838 .002\\ 620 .834 .002\\ 650 .832 .002\\ 700 .831 .002\\ 760 .831 .002\\ 770 .826 .002\\ 800 .825 .002\\ 850 .824 .002\\ 900 .824 .002\\ 950 .824 .002\\ 1000 .824 .002\\};
\addplot[sL] table[y error index=2,row sep=\\]{120 .912 .001\\ 140 .905 .001\\ 160 .897 .001\\ 180 .888 .001\\ 200 .882 .001\\ 220 .878 .001\\ 250 .866 .001\\ 280 .855 .001\\ 320 .85 .001\\ 350 .84 .001\\ 400 .838 .001\\ 450 .836 .001\\ 500 .833 .001\\ 550 .83 .001\\ 600 .827 .001\\ 650 .826 .001\\ 700 .825 .001\\ 750 .824 .001\\ 800 .822 .001\\ 900 .821 .001\\ 1000 .821 .001\\};
\addplot[sM] table[y error index=2,row sep=\\]{190 .889 .002\\ 230 .885 .002\\ 250 .868 .002\\ 270 .857 .002\\ 300 .855 .002\\ 340 .854 .002\\ 370 .845 .002\\ 390 .842 .002\\ 430 .84 .002\\ 470 .838 .002\\ 500 .836 .002\\ 550 .835 .002\\ 600 .835 .002\\ 650 .832 .002\\ 700 .831 .002\\ 760 .83 .002\\ 830 .83 .002\\ 900 .8295 .002\\ 950 .8295 .002\\ 1000 .8295 .002\\};
\addplot[sR] table[y error index=2,row sep=\\]{120 .922 .001\\ 135 .91 .001\\ 150 .90 .001\\ 170 .888 .001\\ 190 .88 .001\\ 210 .875 .001\\ 230 .863 .001\\ 250 .853 .001\\ 270 .843 .001\\ 300 .841 .001\\ 350 .839 .001\\ 400 .838 .001\\ 450 .837 .001\\ 500 .832 .001\\ 550 .83 .001\\ 600 .827 .001\\ 650 .823 .001\\ 700 .823 .001\\ 800 .823 .001\\ 870 .82 .001\\ 1000 .82 .001\\};
\legend{EHVI,LS,MO-REA,RS}
\end{axis}
% ---------- Row 4 ----------
\begin{axis}[panel, p3, at={(47pt,28pt)}, title={IMDB}, xmin=25, xmax=10475, ymin=0.7, ymax=0.9,
  xtick={2000,4000,...,10000}, ytick={0.7,0.725,0.75,0.775,0.8,0.825,0.85,0.875,0.9}]
\addplot[sE] table[y error index=2,row sep=\\]{500 .89 .002\\ 600 .87 .002\\ 700 .858 .002\\ 800 .85 .002\\ 900 .843 .002\\ 1100 .836 .002\\ 1300 .83 .002\\ 1450 .826 .002\\ 1700 .82 .002\\ 2000 .813 .002\\ 2300 .803 .002\\ 2600 .795 .002\\ 2900 .787 .002\\ 3200 .782 .002\\ 3550 .778 .002\\ 3870 .776 .002\\ 4200 .773 .002\\ 4600 .77 .002\\ 5000 .768 .002\\ 5400 .766 .002\\ 5800 .764 .002\\ 6200 .763 .002\\ 6700 .762 .002\\ 7200 .761 .002\\ 7700 .76 .002\\ 8300 .76 .002\\ 8900 .76 .002\\ 9500 .76 .002\\ 10000 .76 .002\\};
\addplot[sL] table[y error index=2,row sep=\\]{600 .879 .002\\ 850 .865 .002\\ 1100 .854 .002\\ 1350 .845 .002\\ 1600 .836 .002\\ 2000 .829 .002\\ 2200 .822 .002\\ 2400 .815 .002\\ 2650 .806 .002\\ 2900 .797 .002\\ 3150 .79 .002\\ 3400 .783 .002\\ 3700 .777 .002\\ 4000 .772 .002\\ 4400 .769 .002\\ 4800 .767 .002\\ 5300 .764 .002\\ 5800 .762 .002\\ 6100 .76 .002\\ 6400 .758 .002\\ 6800 .755 .002\\ 7200 .753 .002\\ 7700 .751 .002\\ 8300 .751 .002\\ 8900 .751 .002\\ 9500 .751 .002\\ 10000 .751 .002\\};
\addplot[sM] table[y error index=2,row sep=\\]{600 .875 .002\\ 900 .84 .002\\ 1200 .826 .002\\ 1600 .818 .002\\ 2000 .813 .002\\ 2500 .806 .002\\ 2850 .803 .002\\ 3200 .801 .002\\ 3500 .797 .002\\ 3870 .794 .002\\ 4200 .791 .002\\ 4500 .789 .002\\ 4850 .786 .002\\ 5160 .783 .002\\ 5500 .779 .002\\ 5800 .776 .002\\ 6100 .773 .002\\ 6450 .771 .002\\ 6800 .769 .002\\ 7100 .767 .002\\ 7700 .767 .002\\ 8300 .767 .002\\ 8900 .767 .002\\ 9500 .767 .002\\ 10000 .767 .002\\};
\addplot[sR] table[y error index=2,row sep=\\]{550 .89 .002\\ 700 .87 .002\\ 900 .854 .002\\ 1150 .84 .002\\ 1450 .829 .002\\ 1700 .82 .002\\ 2000 .811 .002\\ 2300 .802 .002\\ 2600 .794 .002\\ 2900 .787 .002\\ 3200 .78 .002\\ 3600 .775 .002\\ 4000 .771 .002\\ 4600 .768 .002\\ 5200 .766 .002\\ 5650 .764 .002\\ 6100 .762 .002\\ 6900 .76 .002\\ 7700 .758 .002\\ 8300 .758 .002\\ 8900 .758 .002\\ 9500 .758 .002\\ 10000 .758 .002\\};
\legend{EHVI,LS,MO-REA,RS}
\end{axis}
\begin{axis}[panel, p2, at={(352pt,28pt)}, title={SST2}, xmin=93, xmax=1043, ymin=0.85, ymax=1.0,
  xtick={200,400,...,1000}, ytick={0.86,0.88,0.9,0.92,0.94,0.96,0.98,1.0}]
\addplot[sE] table[y error index=2,row sep=\\]{150 .963 .008\\ 168 .956 .008\\ 186 .95 .008\\ 207 .943 .008\\ 229 .937 .007\\ 250 .93 .007\\ 271 .924 .007\\ 292 .919 .006\\ 314 .915 .006\\ 335 .911 .006\\ 357 .908 .005\\ 385 .905 .005\\ 414 .903 .005\\ 443 .901 .005\\ 471 .899 .005\\ 500 .897 .005\\ 529 .895 .005\\ 557 .892 .005\\ 586 .89 .005\\ 630 .889 .005\\ 671 .889 .005\\ 715 .887 .005\\ 757 .886 .005\\ 780 .886 .005\\ 805 .886 .005\\ 830 .886 .005\\ 855 .886 .005\\ 880 .886 .005\\ 905 .886 .005\\ 930 .886 .005\\ 955 .886 .005\\ 980 .886 .005\\ 1000 .886 .005\\};
\addplot[sL] table[y error index=2,row sep=\\]{157 .984 .004\\ 180 .97 .004\\ 200 .958 .004\\ 222 .948 .004\\ 243 .942 .004\\ 270 .937 .004\\ 300 .932 .004\\ 330 .925 .004\\ 357 .919 .004\\ 380 .912 .004\\ 400 .906 .004\\ 415 .901 .004\\ 429 .896 .004\\ 443 .893 .004\\ 457 .89 .004\\ 480 .886 .004\\ 500 .882 .004\\ 530 .879 .004\\ 557 .877 .004\\ 585 .875 .004\\ 614 .873 .004\\ 657 .872 .004\\ 700 .871 .004\\ 730 .871 .004\\ 760 .871 .004\\ 790 .871 .004\\ 820 .871 .004\\ 850 .871 .004\\ 880 .871 .004\\ 910 .871 .004\\ 940 .871 .004\\ 970 .871 .004\\ 1000 .871 .004\\};
\addplot[sM] table[y error index=2,row sep=\\]{157 .979 .004\\ 185 .97 .004\\ 214 .961 .004\\ 243 .951 .004\\ 271 .942 .004\\ 300 .937 .004\\ 329 .932 .004\\ 357 .93 .004\\ 386 .927 .004\\ 415 .923 .004\\ 443 .919 .004\\ 471 .916 .004\\ 500 .914 .004\\ 529 .912 .004\\ 557 .911 .004\\ 586 .908 .004\\ 614 .906 .004\\ 643 .904 .004\\ 671 .902 .004\\ 700 .899 .004\\ 729 .897 .004\\ 760 .897 .004\\ 790 .897 .004\\ 820 .897 .004\\ 850 .897 .004\\ 880 .897 .004\\ 910 .897 .004\\ 940 .897 .004\\ 970 .897 .004\\ 1000 .897 .004\\};
\addplot[sR] table[y error index=2,row sep=\\]{150 .993 .006\\ 165 .975 .006\\ 186 .966 .006\\ 214 .958 .006\\ 243 .95 .006\\ 271 .942 .005\\ 300 .935 .005\\ 329 .929 .005\\ 357 .924 .005\\ 380 .919 .005\\ 400 .914 .005\\ 429 .908 .005\\ 457 .903 .005\\ 493 .90 .005\\ 529 .898 .005\\ 565 .895 .005\\ 600 .893 .005\\ 635 .891 .005\\ 671 .89 .005\\ 715 .887 .005\\ 757 .885 .005\\ 780 .885 .005\\ 805 .885 .005\\ 830 .885 .005\\ 855 .885 .005\\ 880 .885 .005\\ 905 .885 .005\\ 930 .885 .005\\ 955 .885 .005\\ 980 .885 .005\\ 1000 .885 .005\\};
\legend{EHVI,LS,MO-REA,RS}
\end{axis}
\begin{axis}[panel, p2, at={(660pt,28pt)}, title={SWAG}, xmin=285, xmax=5224, ymin=0.75, ymax=0.91,
  xtick={1000,2000,...,5000}, ytick={0.76,0.78,0.8,0.82,0.84,0.86,0.88,0.9}]
\addplot[sE] table[y error index=2,row sep=\\]{590 .908 .002\\ 665 .895 .002\\ 740 .883 .002\\ 855 .871 .002\\ 970 .86 .002\\ 1080 .851 .002\\ 1195 .843 .002\\ 1310 .837 .002\\ 1420 .832 .002\\ 1530 .827 .002\\ 1645 .822 .002\\ 1800 .82 .002\\ 1950 .818 .002\\ 2100 .812 .002\\ 2250 .807 .002\\ 2400 .804 .002\\ 2550 .801 .002\\ 2775 .797 .002\\ 3000 .794 .002\\ 3225 .791 .002\\ 3450 .789 .002\\ 3675 .786 .002\\ 3900 .784 .002\\ 4125 .782 .002\\ 4350 .78 .002\\ 4675 .777 .002\\ 5000 .775 .002\\};
\addplot[sL] table[y error index=2,row sep=\\]{515 .909 .002\\ 630 .90 .002\\ 740 .894 .002\\ 855 .886 .002\\ 970 .877 .002\\ 1080 .871 .002\\ 1195 .866 .002\\ 1270 .856 .002\\ 1350 .846 .002\\ 1460 .84 .002\\ 1570 .835 .002\\ 1685 .83 .002\\ 1800 .826 .002\\ 1950 .822 .002\\ 2100 .819 .002\\ 2250 .816 .002\\ 2400 .814 .002\\ 2550 .81 .002\\ 2700 .807 .002\\ 2850 .802 .002\\ 3000 .798 .002\\ 3150 .795 .002\\ 3300 .793 .002\\ 3525 .79 .002\\ 3750 .787 .002\\ 3975 .785 .002\\ 4200 .783 .002\\ 4425 .781 .002\\ 4650 .779 .002\\ 4825 .777 .002\\ 5000 .775 .002\\};
\addplot[sM] table[y error index=2,row sep=\\]{590 .902 .002\\ 700 .888 .002\\ 815 .874 .002\\ 930 .862 .002\\ 1045 .852 .002\\ 1200 .846 .002\\ 1350 .841 .002\\ 1535 .834 .002\\ 1720 .827 .002\\ 1910 .823 .002\\ 2100 .819 .002\\ 2325 .814 .002\\ 2550 .81 .002\\ 2775 .804 .002\\ 3000 .799 .002\\ 3225 .796 .002\\ 3450 .793 .002\\ 3675 .791 .002\\ 3900 .789 .002\\ 4125 .787 .002\\ 4350 .786 .002\\ 4675 .782 .002\\ 5000 .779 .002\\};
\addplot[sR] table[y error index=2,row sep=\\]{515 .905 .002\\ 630 .892 .002\\ 740 .88 .002\\ 855 .868 .002\\ 970 .857 .002\\ 1080 .849 .002\\ 1195 .841 .002\\ 1350 .834 .002\\ 1500 .827 .002\\ 1650 .82 .002\\ 1800 .813 .002\\ 1990 .808 .002\\ 2180 .803 .002\\ 2365 .801 .002\\ 2550 .799 .002\\ 2775 .796 .002\\ 3000 .793 .002\\ 3225 .79 .002\\ 3450 .787 .002\\ 3675 .785 .002\\ 3900 .783 .002\\ 4125 .78 .002\\ 4350 .777 .002\\ 4675 .773 .002\\ 5000 .77 .002\\};
\legend{EHVI,LS,MO-REA,RS}
\end{axis}
\begin{axis}[panel, p3, at={(968pt,28pt)}, title={QNLI}, xmin=104, xmax=2090, ymin=0.7, ymax=0.9,
  xtick={250,500,...,2000}, ytick={0.7,0.725,0.75,0.775,0.8,0.825,0.85,0.875,0.9}]
\addplot[sE] table[y error index=2,row sep=\\]{207 .86 .003\\ 238 .845 .003\\ 268 .832 .003\\ 313 .823 .003\\ 359 .815 .003\\ 420 .809 .003\\ 481 .804 .003\\ 541 .80 .003\\ 602 .795 .003\\ 663 .789 .003\\ 724 .783 .003\\ 785 .777 .003\\ 845 .772 .003\\ 906 .765 .003\\ 967 .758 .003\\ 1028 .757 .003\\ 1088 .755 .003\\ 1180 .752 .003\\ 1270 .749 .003\\ 1360 .746 .003\\ 1453 .744 .003\\ 1545 .742 .003\\ 1635 .741 .003\\ 1820 .741 .003\\ 2000 .741 .003\\};
\addplot[sL] table[y error index=2,row sep=\\]{207 .90 .002\\ 238 .889 .002\\ 268 .878 .002\\ 313 .862 .002\\ 359 .846 .002\\ 405 .834 .002\\ 450 .822 .002\\ 496 .813 .002\\ 541 .804 .002\\ 602 .795 .002\\ 663 .787 .002\\ 724 .781 .002\\ 784 .776 .002\\ 845 .77 .002\\ 906 .765 .002\\ 967 .76 .002\\ 1028 .755 .002\\ 1088 .751 .002\\ 1149 .748 .002\\ 1210 .744 .002\\ 1270 .741 .002\\ 1360 .738 .002\\ 1453 .735 .002\\ 1545 .733 .002\\ 1635 .732 .002\\ 1725 .73 .002\\ 1817 .729 .002\\ 2000 .729 .002\\};
\addplot[sM] table[y error index=2,row sep=\\]{260 .88 .002\\ 295 .85 .002\\ 329 .829 .002\\ 375 .822 .002\\ 420 .815 .002\\ 465 .811 .002\\ 511 .808 .002\\ 556 .802 .002\\ 602 .797 .002\\ 663 .793 .002\\ 724 .79 .002\\ 785 .785 .002\\ 845 .78 .002\\ 890 .778 .002\\ 936 .776 .002\\ 1010 .774 .002\\ 1088 .772 .002\\ 1150 .77 .002\\ 1210 .769 .002\\ 1300 .767 .002\\ 1392 .765 .002\\ 1483 .763 .002\\ 1574 .762 .002\\ 1665 .76 .002\\ 1756 .758 .002\\ 1880 .756 .002\\ 2000 .756 .002\\};
\addplot[sR] table[y error index=2,row sep=\\]{250 .882 .002\\ 290 .86 .002\\ 329 .839 .002\\ 375 .826 .002\\ 420 .815 .002\\ 480 .806 .002\\ 541 .797 .002\\ 602 .79 .002\\ 663 .783 .002\\ 724 .777 .002\\ 784 .772 .002\\ 845 .768 .002\\ 906 .765 .002\\ 967 .762 .002\\ 1028 .76 .002\\ 1120 .757 .002\\ 1210 .755 .002\\ 1300 .752 .002\\ 1392 .749 .002\\ 1483 .747 .002\\ 1574 .746 .002\\ 1665 .744 .002\\ 1756 .743 .002\\ 1880 .743 .002\\ 2000 .743 .002\\};
\legend{EHVI,LS,MO-REA,RS}
\end{axis}
\pgfresetboundingbox
\useasboundingbox (0,0) rectangle (1220pt,983pt);
\end{tikzpicture}
\end{document}
